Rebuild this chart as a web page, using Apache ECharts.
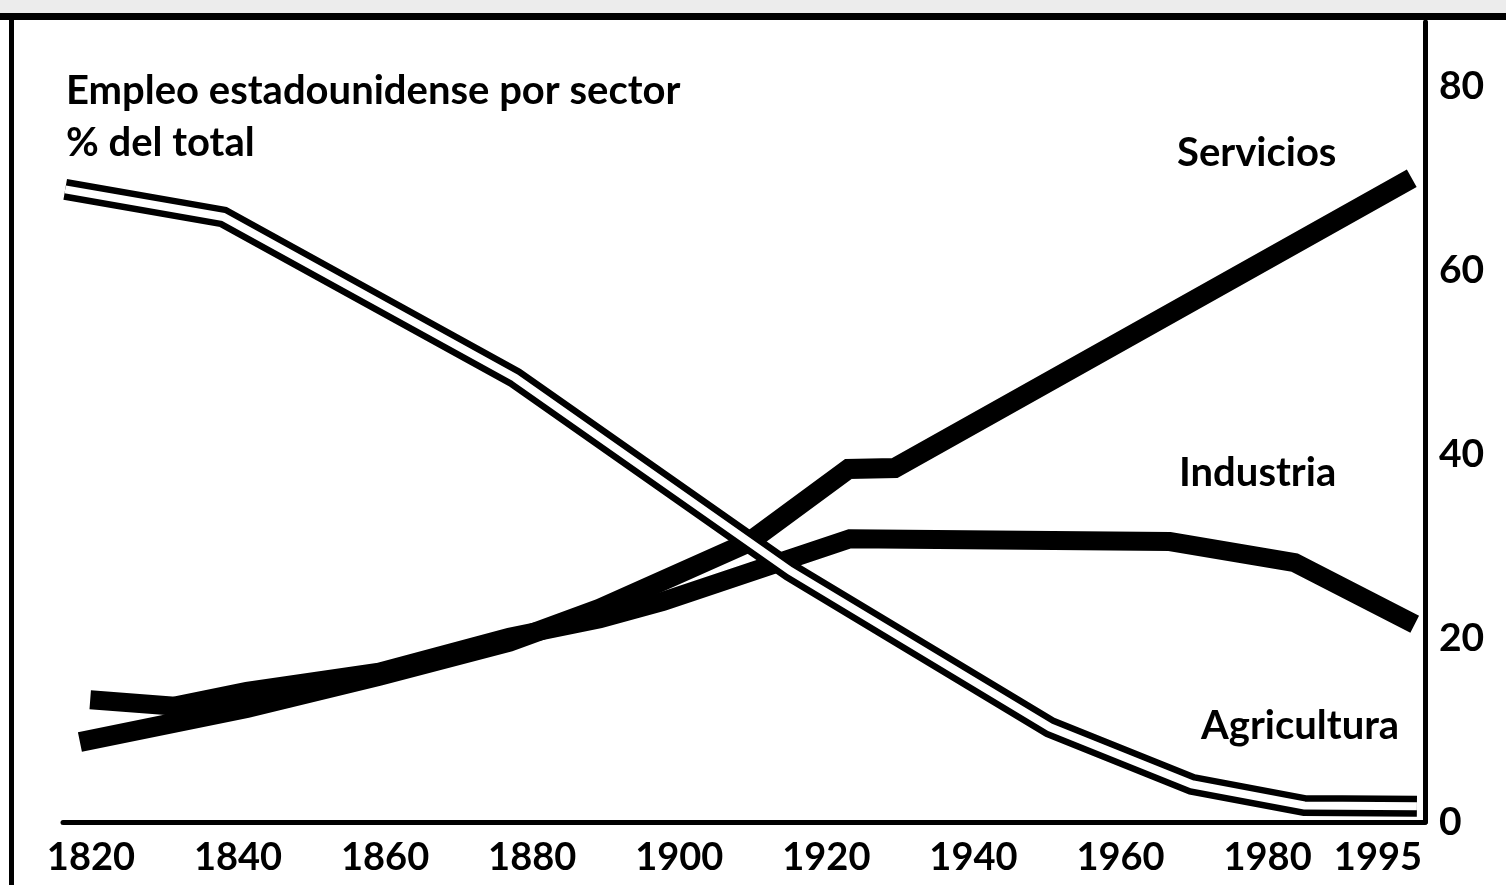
<!DOCTYPE html>
<html>
<head>
<meta charset="utf-8">
<script src="https://cdn.jsdelivr.net/npm/echarts@6/dist/echarts.min.js"></script>
<style>
html,body{margin:0;padding:0;background:#fff;}
#chart{width:1506px;height:885px;}
</style>
</head>
<body>
<div id="chart"></div>
<script>
// Data (x = year, y = % of total employment)
const agriYears  = [1816.5, 1838.0, 1877.7, 1915.1, 1950.4, 1969.7, 1985.0, 2000.3];
const agriValues = [68.8, 65.8, 48.3, 27.3, 10.3, 4.1, 1.8, 1.7];
const servYears  = [1818.5, 1841.2, 1859.2, 1876.9, 1889.2, 1909.4, 1923.0, 1929.3, 1999.6];
const servValues = [8.7, 12.4, 15.9, 19.6, 23.2, 30.4, 38.4, 38.5, 70.0];
const indYears   = [1819.9, 1831.4, 1841.2, 1859.2, 1876.9, 1889.2, 1897.8, 1923.2, 1966.7, 1983.7, 2000.0];
const indValues  = [13.3, 12.6, 14.2, 16.3, 20.1, 22.1, 24.0, 30.8, 30.5, 28.2, 21.5];
const xTickLabels = [1820, 1840, 1860, 1880, 1900, 1920, 1940, 1960, 1980, 1995];
const yTickLabels = [0, 20, 40, 60, 80];
const titleLines = ['Empleo estadounidense por sector', '% del total'];
const seriesNames = ['Servicios', 'Industria', 'Agricultura'];

const zip = (xs, ys) => xs.map((x, i) => [x, ys[i]]);

const chart = echarts.init(document.getElementById('chart'), null, {renderer: 'canvas'});
const labelFont = 'Lato, "Open Sans", sans-serif';

const option = {
  animation: false,
  backgroundColor: '#ffffff',
  grid: {left: 63, right: 81, top: 22, bottom: 63, containLabel: false},
  xAxis: {
    type: 'value',
    min: 1816.2,
    max: 2001.4,
    axisLine: {show: true, lineStyle: {color: '#000', width: 5}},
    axisTick: {show: false},
    splitLine: {show: false},
    axisLabel: {
      customValues: xTickLabels,
      margin: 17,
      color: '#000',
      fontSize: 38,
      fontWeight: 'bold',
      fontFamily: labelFont,
      formatter: v => String(v)
    }
  },
  yAxis: {
    type: 'value',
    position: 'right',
    min: 0,
    max: 87,
    axisLine: {show: true, lineStyle: {color: '#000', width: 5}},
    axisTick: {show: false},
    splitLine: {show: false},
    axisLabel: {
      customValues: yTickLabels,
      margin: 14,
      color: '#000',
      fontSize: 39,
      fontWeight: 'bold',
      fontFamily: labelFont,
      formatter: v => String(v)
    }
  },
  series: [
    {
      name: seriesNames[0], type: 'line', data: zip(servYears, servValues),
      symbol: 'none', z: 3,
      lineStyle: {color: '#000', width: 20, cap: 'butt', join: 'miter'}
    },
    {
      name: seriesNames[1], type: 'line', data: zip(indYears, indValues),
      symbol: 'none', z: 3,
      lineStyle: {color: '#000', width: 19, cap: 'butt', join: 'miter'}
    },
    {
      name: seriesNames[2], type: 'line', data: zip(agriYears, agriValues),
      symbol: 'none', z: 4,
      lineStyle: {color: '#000', width: 21, cap: 'butt', join: 'miter'}
    },
    {
      name: seriesNames[2] + ' (interior)', type: 'line', data: zip(agriYears, agriValues),
      symbol: 'none', z: 5,
      lineStyle: {color: '#fff', width: 8, cap: 'butt', join: 'miter'}
    }
  ],
  graphic: [
    // scan frame: grey strip + heavy top rule + left rule
    {type: 'rect', shape: {x: 0, y: 0, width: 1506, height: 14}, style: {fill: '#ececec'}, z: 10},
    {type: 'rect', shape: {x: 0, y: 13, width: 1506, height: 7}, style: {fill: '#000'}, z: 10},
    {type: 'rect', shape: {x: 9, y: 13, width: 5, height: 872}, style: {fill: '#000'}, z: 10},
    // title text
    {type: 'text', left: 66, top: 71, z: 10,
      style: {text: titleLines[0], fill: '#000', font: 'bold 40px ' + labelFont}},
    {type: 'text', left: 66, top: 123, z: 10,
      style: {text: titleLines[1], fill: '#000', font: 'bold 40px ' + labelFont}},
    // series labels
    {type: 'text', left: 1177, top: 133, z: 10,
      style: {text: seriesNames[0], fill: '#000', font: 'bold 40px ' + labelFont}},
    {type: 'text', left: 1179, top: 453, z: 10,
      style: {text: seriesNames[1], fill: '#000', font: 'bold 40px ' + labelFont}},
    {type: 'text', left: 1201, top: 706, z: 10,
      style: {text: seriesNames[2], fill: '#000', font: 'bold 40px ' + labelFont}}
  ]
};
chart.setOption(option);
</script>
</body>
</html>
